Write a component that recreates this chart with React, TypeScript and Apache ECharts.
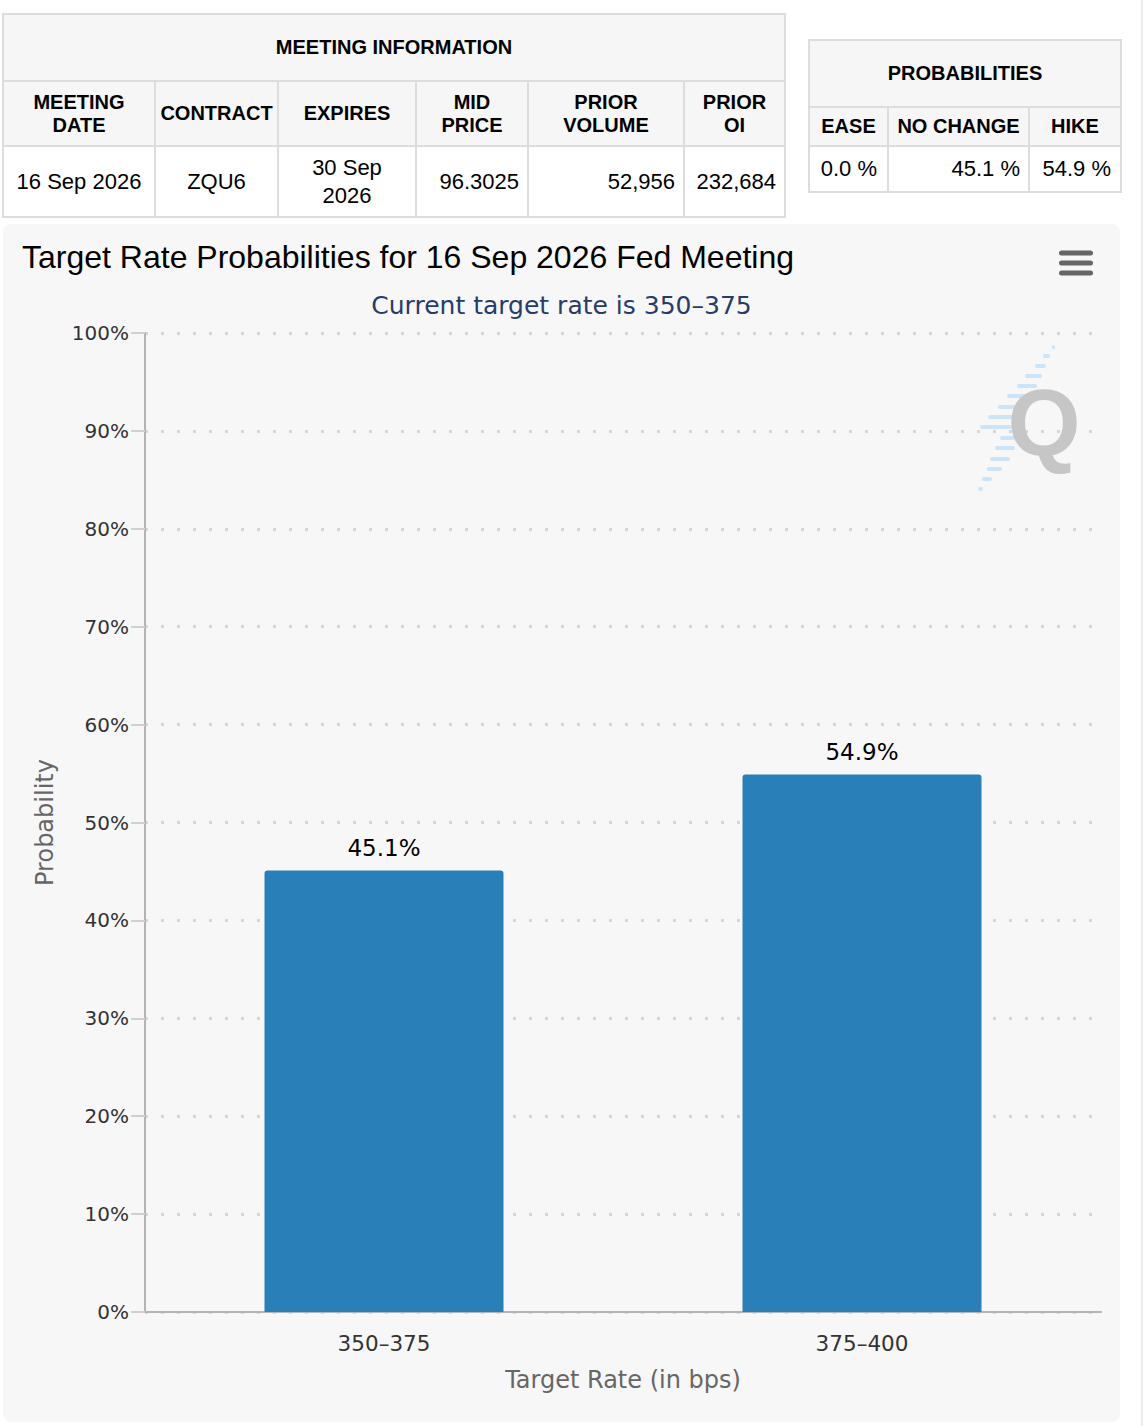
import React, { useEffect, useRef } from "react";
import * as echarts from "echarts";

// ---------- data ----------
const meetingTitle = "MEETING INFORMATION";
const meetingHeaders = ["MEETING\nDATE", "CONTRACT", "EXPIRES", "MID\nPRICE", "PRIOR\nVOLUME", "PRIOR\nOI"];
const meetingValues = ["16 Sep 2026", "ZQU6", "30 Sep\n2026", "96.3025", "52,956", "232,684"];
const meetingAligns = ["center", "center", "center", "right", "right", "right"];

const probTitle = "PROBABILITIES";
const probHeaders = ["EASE", "NO CHANGE", "HIKE"];
const probValues = [0.0, 45.1, 54.9];

const chartTitle = "Target Rate Probabilities for 16 Sep 2026 Fed Meeting";
const chartSubtitle = "Current target rate is 350–375";
const categories = ["350–375", "375–400"];
const probabilities = [45.1, 54.9];
const xAxisName = "Target Rate (in bps)";
const yAxisName = "Probability";

// ---------- styles ----------
const SANS = '"Liberation Sans", Arial, Helvetica, sans-serif';
const LUCIDA = '"DejaVu Sans", Verdana, sans-serif';
const BORDER = "#dddddd";
const HEAD_BG = "#f6f6f6";

type TableProps = {
  left: number;
  top: number;
  colWidths: number[];
  rowHeights: number[];
  title: string;
  headers: string[];
  values: string[];
  aligns: string[];
  padRight: number[];
};

function InfoTable(p: TableProps) {
  const n = p.colWidths.length;
  return (
    <div
      style={{
        position: "absolute",
        left: p.left,
        top: p.top,
        display: "grid",
        gridTemplateColumns: p.colWidths.map((w) => w + "px").join(" "),
        gridTemplateRows: p.rowHeights.map((h) => h + "px").join(" "),
        gap: 2,
        padding: 2,
        background: BORDER,
        fontFamily: SANS,
        color: "#000",
      }}
    >
      <div
        style={{
          gridColumn: `1 / span ${n}`,
          background: HEAD_BG,
          display: "flex",
          alignItems: "center",
          justifyContent: "center",
          fontWeight: "bold",
          fontSize: 20,
        }}
      >
        {p.title}
      </div>
      {p.headers.map((h, i) => (
        <div
          key={"h" + i}
          style={{
            background: HEAD_BG,
            display: "flex",
            alignItems: "center",
            justifyContent: "center",
            textAlign: "center",
            whiteSpace: "pre-line",
            fontWeight: "bold",
            fontSize: 20,
            lineHeight: "23px",
          }}
        >
          {h}
        </div>
      ))}
      {p.values.map((v, i) => (
        <div
          key={"v" + i}
          style={{
            background: "#ffffff",
            display: "flex",
            alignItems: "center",
            justifyContent: p.aligns[i] === "right" ? "flex-end" : "center",
            textAlign: p.aligns[i] === "right" ? "right" : "center",
            paddingRight: p.aligns[i] === "right" ? p.padRight[i] : 0,
            whiteSpace: "pre-line",
            fontSize: 22,
            lineHeight: "28px",
          }}
        >
          {v}
        </div>
      ))}
    </div>
  );
}

function ProbChart() {
  const ref = useRef<HTMLDivElement>(null);
  useEffect(() => {
    if (!ref.current) return;
    const chart = echarts.init(ref.current, undefined, { renderer: "svg" });
    const OX = 3;
    const OY = 224;
    const dashes: number[][] = [
      [1052, 1055, 347], [1043, 1050, 356], [1035, 1046, 366], [1025, 1042, 376],
      [1017, 1037, 386], [1007, 1027, 396], [998, 1020, 407], [988, 1015, 417],
      [980, 1012, 427], [1000, 1015, 438], [995, 1015, 448], [990, 1010, 459],
      [987, 1002, 469], [982, 992, 479], [978, 983, 489],
    ];
    const graphic: any[] = dashes.map((d) => ({
      type: "rect",
      shape: { x: d[0] - OX, y: d[2] - OY - 2, width: d[1] - d[0], height: 4, r: 2 },
      style: { fill: "#cce4f7" },
      z: 1,
    }));
    graphic.push({
      type: "text",
      x: 1044 - OX,
      y: 422 - OY,
      z: 2,
      style: {
        text: "Q",
        fontFamily: SANS,
        fontWeight: "bold",
        fontSize: 94,
        fill: "#c6c6c6",
        align: "center",
        verticalAlign: "middle",
      },
    });
    [253, 263, 273].forEach((y) =>
      graphic.push({
        type: "rect",
        shape: { x: 1059 - OX, y: y - OY - 2.5, width: 34, height: 5, r: 2.5 },
        style: { fill: "#666666" },
        z: 3,
      })
    );

    chart.setOption({
      animation: false,
      backgroundColor: "transparent",
      title: [
        {
          text: chartTitle,
          left: 19,
          top: 17,
          padding: 0,
          textStyle: { fontFamily: SANS, fontSize: 32, fontWeight: "normal", color: "#000000" },
        },
        {
          text: chartSubtitle,
          left: "center",
          top: 69,
          padding: 0,
          textStyle: { fontFamily: LUCIDA, fontSize: 25, fontWeight: "normal", color: "#273c69" },
        },
      ],
      grid: { left: 142, top: 109, width: 956, height: 979, containLabel: false },
      xAxis: {
        type: "category",
        data: categories,
        axisLine: { lineStyle: { color: "#b3b3b3", width: 2 } },
        axisTick: { alignWithLabel: true, length: 16, lineStyle: { color: "#d0d0d0", width: 2 } },
        axisLabel: { fontFamily: LUCIDA, fontSize: 21.5, color: "#333333", margin: 20 },
        name: xAxisName,
        nameLocation: "middle",
        nameGap: 56,
        nameTextStyle: { fontFamily: LUCIDA, fontSize: 24, color: "#666666" },
      },
      yAxis: {
        type: "value",
        min: 0,
        max: 100,
        interval: 10,
        axisLine: { show: true, lineStyle: { color: "#b3b3b3", width: 2 } },
        axisTick: { show: true, length: 14, lineStyle: { color: "#d0d0d0", width: 2 } },
        axisLabel: { formatter: "{value}%", fontFamily: LUCIDA, fontSize: 20, color: "#333333", margin: 16 },
        splitLine: { lineStyle: { color: "#d6d6d6", width: 3, type: [3, 13] } },
        name: yAxisName,
        nameLocation: "middle",
        nameGap: 88,
        nameRotate: 90,
        nameTextStyle: { fontFamily: LUCIDA, fontSize: 24, color: "#666666" },
      },
      series: [
        {
          type: "bar",
          data: probabilities,
          barWidth: "50%",
          itemStyle: { color: "#2980b9", borderRadius: [3, 3, 0, 0] },
          label: {
            show: true,
            position: "top",
            distance: 11,
            formatter: "{c}%",
            fontFamily: LUCIDA,
            fontSize: 23,
            color: "#000000",
          },
        },
      ],
      graphic,
    });
    return () => chart.dispose();
  }, []);
  return (
    <div
      ref={ref}
      style={{
        position: "absolute",
        left: 3,
        top: 224,
        width: 1117,
        height: 1198,
        background: "#f7f7f7",
        borderRadius: 8,
        overflow: "hidden",
      }}
    />
  );
}

export default function App() {
  return (
    <div
      style={{
        position: "absolute",
        left: 0,
        top: 0,
        width: 1144,
        height: 1426,
        background: "#ffffff",
        overflow: "hidden",
      }}
    >
      <InfoTable
        left={2}
        top={13}
        colWidths={[150, 121, 136, 110, 154, 99]}
        rowHeights={[65, 63, 69]}
        title={meetingTitle}
        headers={meetingHeaders}
        values={meetingValues}
        aligns={meetingAligns}
        padRight={[0, 0, 0, 8, 8, 8]}
      />
      <InfoTable
        left={808}
        top={39}
        colWidths={[77, 139, 90]}
        rowHeights={[65, 37, 44]}
        title={probTitle}
        headers={probHeaders}
        values={probValues.map((v) => v.toFixed(1) + " %")}
        aligns={["right", "right", "right"]}
        padRight={[10, 8, 9]}
      />
      <ProbChart />
      <div style={{ position: "absolute", left: 1141, top: 0, width: 2, height: 1426, background: "#ececec" }} />
    </div>
  );
}
